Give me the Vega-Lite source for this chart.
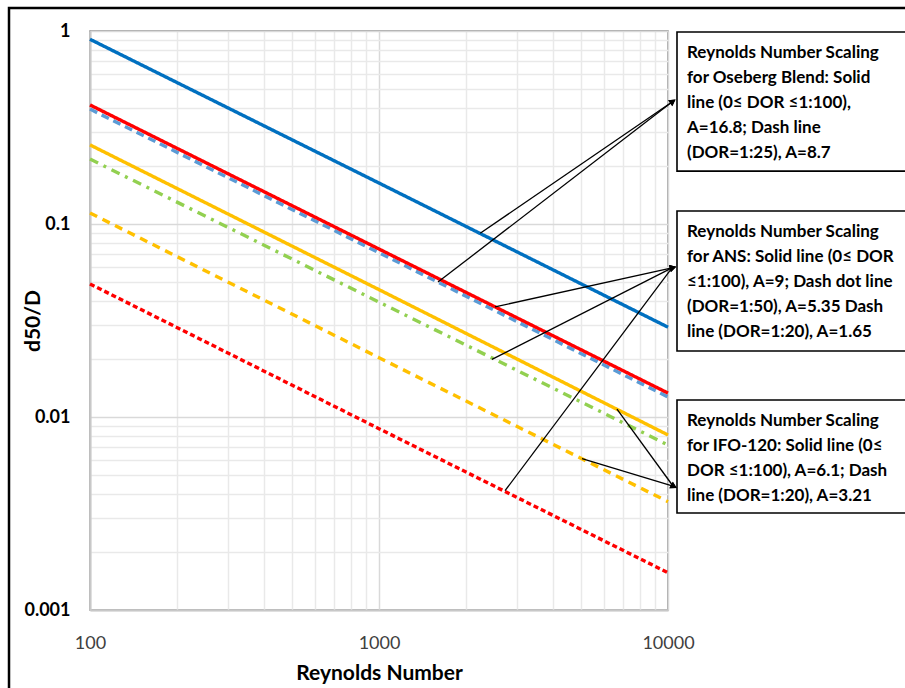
{
  "$schema": "https://vega.github.io/schema/vega-lite/v6.json",
  "width": 578,
  "height": 579,
  "autosize": {"type": "none"},
  "padding": {"left": 90, "top": 31, "right": 237, "bottom": 78},
  "background": "white",
  "config": {
    "font": "Lato",
    "view": {"stroke": "#8c8c8c", "strokeWidth": 1.5}
  },
  "datasets": {
    "frame": [{"x1": 52.45, "x2": 10000000, "y1": 1.316, "y2": 0.000001}],
    "curves": [
      {"series": "Oseberg solid", "Re": 100, "d50D": 0.906},
      {"series": "Oseberg solid", "Re": 1000, "d50D": 0.163},
      {"series": "Oseberg solid", "Re": 10000, "d50D": 0.0292},
      {"series": "Oseberg dash", "Re": 100, "d50D": 0.394},
      {"series": "Oseberg dash", "Re": 1000, "d50D": 0.071},
      {"series": "Oseberg dash", "Re": 10000, "d50D": 0.0127},
      {"series": "ANS solid", "Re": 100, "d50D": 0.414},
      {"series": "ANS solid", "Re": 1000, "d50D": 0.0742},
      {"series": "ANS solid", "Re": 10000, "d50D": 0.0133},
      {"series": "ANS dash dot", "Re": 100, "d50D": 0.217},
      {"series": "ANS dash dot", "Re": 1000, "d50D": 0.0394},
      {"series": "ANS dash dot", "Re": 10000, "d50D": 0.00716},
      {"series": "ANS dash", "Re": 100, "d50D": 0.0489},
      {"series": "ANS dash", "Re": 1000, "d50D": 0.0087},
      {"series": "ANS dash", "Re": 10000, "d50D": 0.00156},
      {"series": "IFO-120 solid", "Re": 100, "d50D": 0.257},
      {"series": "IFO-120 solid", "Re": 1000, "d50D": 0.0457},
      {"series": "IFO-120 solid", "Re": 10000, "d50D": 0.00807},
      {"series": "IFO-120 dash", "Re": 100, "d50D": 0.114},
      {"series": "IFO-120 dash", "Re": 1000, "d50D": 0.0203},
      {"series": "IFO-120 dash", "Re": 10000, "d50D": 0.00364}
    ],
    "pointers": [
      {"note": "Oseberg", "fromRe": 2240, "fromD": 0.0895, "toRe": 10323, "toD": 0.4286},
      {"note": "Oseberg", "fromRe": 1600, "fromD": 0.05, "toRe": 10323, "toD": 0.4286},
      {"note": "ANS", "fromRe": 2520, "fromD": 0.0372, "toRe": 10323, "toD": 0.0592},
      {"note": "ANS", "fromRe": 2460, "fromD": 0.0199, "toRe": 10323, "toD": 0.0592},
      {"note": "ANS", "fromRe": 2729, "fromD": 0.00415, "toRe": 10323, "toD": 0.0592},
      {"note": "IFO-120", "fromRe": 6660, "fromD": 0.011, "toRe": 10406, "toD": 0.00439},
      {"note": "IFO-120", "fromRe": 5040, "fromD": 0.00608, "toRe": 10406, "toD": 0.00439}
    ],
    "notes": [
      {"note": "Oseberg", "left": 10743, "right": 70000, "top": 0.988, "bottom": 0.188, "textRe": 11634, "textD": 0.7245,
       "label": "Reynolds Number Scaling\nfor Oseberg Blend: Solid\nline (0≤ DOR ≤1:100),\nA=16.8; Dash line\n(DOR=1:25), A=8.7"},
      {"note": "ANS", "left": 10743, "right": 70000, "top": 0.1167, "bottom": 0.02198, "textRe": 11634, "textD": 0.0857,
       "label": "Reynolds Number Scaling\nfor ANS: Solid line (0≤ DOR\n≤1:100), A=9; Dash dot line\n(DOR=1:50), A=5.35 Dash\nline (DOR=1:20), A=1.65"},
      {"note": "IFO-120", "left": 10743, "right": 70000, "top": 0.01225, "bottom": 0.003183, "textRe": 11634, "textD": 0.00898,
       "label": "Reynolds Number Scaling\nfor IFO-120: Solid line (0≤\nDOR ≤1:100), A=6.1; Dash\nline (DOR=1:20), A=3.21"}
    ]
  },
  "layer": [
    {
      "data": {"name": "curves"},
      "transform": [{"filter": "datum.series === 'Oseberg dash'"}],
      "mark": {"type": "line", "strokeWidth": 3.4, "strokeDash": [8, 5], "color": "#5b9bd5"},
      "encoding": {
        "x": {
          "field": "Re", "type": "quantitative",
          "scale": {"type": "log", "domain": [100, 10000], "nice": false},
          "axis": {
            "title": "Reynolds Number",
            "values": [100, 200, 300, 400, 500, 600, 700, 800, 900, 1000, 2000, 3000, 4000, 5000, 6000, 7000, 8000, 9000, 10000],
            "labelExpr": "abs(log(datum.value)/LN10 - round(log(datum.value)/LN10)) < 1e-6 ? datum.value + '' : ''",
            "labelOverlap": false,
            "labelFlush": false,
            "labelFont": "Lato",
            "labelFontSize": 18,
            "labelColor": "#404040",
            "labelPadding": 24,
            "ticks": false,
            "domain": true,
            "domainColor": "#c8c8c8",
            "domainWidth": 2,
            "grid": true,
            "gridColor": {"condition": {"test": "abs(log(datum.value)/LN10 - round(log(datum.value)/LN10)) < 1e-6", "value": "#d9d9d9"}, "value": "#e9e9e9"},
            "gridWidth": 1.5,
            "titleFont": "Lato",
            "titleFontSize": 21,
            "titleFontWeight": "bold",
            "titleColor": "#000000",
            "titlePadding": 10
          }
        },
        "y": {
          "field": "d50D", "type": "quantitative",
          "scale": {"type": "log", "domain": [0.001, 1], "nice": false},
          "axis": {
            "title": "d50/D",
            "values": [0.001, 0.002, 0.003, 0.004, 0.005, 0.006, 0.007, 0.008, 0.009, 0.01, 0.02, 0.03, 0.04, 0.05, 0.06, 0.07, 0.08, 0.09, 0.1, 0.2, 0.3, 0.4, 0.5, 0.6, 0.7, 0.8, 0.9, 1],
            "labelExpr": "abs(log(datum.value)/LN10 - round(log(datum.value)/LN10)) < 1e-6 ? datum.value + '' : ''",
            "labelOverlap": false,
            "labelFlush": false,
            "labelFont": "Lato",
            "labelFontSize": 18,
            "labelFontWeight": "bold",
            "labelColor": "#000000",
            "labelPadding": 20,
            "ticks": false,
            "domain": true,
            "domainColor": "#c8c8c8",
            "domainWidth": 2,
            "grid": true,
            "gridColor": {"condition": {"test": "abs(log(datum.value)/LN10 - round(log(datum.value)/LN10)) < 1e-6", "value": "#d9d9d9"}, "value": "#e9e9e9"},
            "gridWidth": 1.5,
            "titleFont": "Lato",
            "titleFontSize": 21,
            "titleFontWeight": "bold",
            "titleColor": "#000000",
            "titlePadding": -20
          }
        }
      }
    },
    {
      "data": {"name": "curves"},
      "transform": [{"filter": "datum.series !== 'Oseberg dash'"}],
      "mark": {"type": "line", "strokeWidth": 3.4},
      "encoding": {
        "x": {"field": "Re", "type": "quantitative", "scale": {"type": "log", "domain": [100, 10000], "nice": false}},
        "y": {"field": "d50D", "type": "quantitative", "scale": {"type": "log", "domain": [0.001, 1], "nice": false}},
        "detail": {"field": "series"},
        "color": {
          "field": "series", "type": "nominal", "legend": null,
          "scale": {
            "domain": ["Oseberg solid", "ANS solid", "ANS dash dot", "ANS dash", "IFO-120 solid", "IFO-120 dash"],
            "range": ["#0070c0", "#ff0000", "#92d050", "#ff0000", "#ffc000", "#ffc000"]
          }
        },
        "strokeDash": {
          "field": "series", "type": "nominal", "legend": null,
          "scale": {
            "domain": ["Oseberg solid", "ANS solid", "ANS dash dot", "ANS dash", "IFO-120 solid", "IFO-120 dash"],
            "range": [[1, 0], [1, 0], [9, 6, 3, 6], [5, 3], [1, 0], [8, 6]]
          }
        }
      }
    },
    {
      "data": {"name": "pointers"},
      "mark": {"type": "rule", "color": "#000000", "strokeWidth": 1.3},
      "encoding": {
        "x": {"field": "fromRe", "type": "quantitative", "scale": {"type": "log", "domain": [100, 10000], "nice": false}},
        "y": {"field": "fromD", "type": "quantitative", "scale": {"type": "log", "domain": [0.001, 1], "nice": false}},
        "x2": {"field": "toRe"},
        "y2": {"field": "toD"}
      }
    },
    {
      "data": {"name": "notes"},
      "mark": {"type": "rect", "fill": "#ffffff", "stroke": "#000000", "strokeWidth": 1.6},
      "encoding": {
        "x": {"field": "left", "type": "quantitative", "scale": {"type": "log", "domain": [100, 10000], "nice": false}},
        "x2": {"field": "right"},
        "y": {"field": "top", "type": "quantitative", "scale": {"type": "log", "domain": [0.001, 1], "nice": false}},
        "y2": {"field": "bottom"}
      }
    },
    {
      "data": {"name": "pointers"},
      "mark": {"type": "point", "shape": "triangle", "filled": true, "color": "#000000", "size": 55, "opacity": 1},
      "encoding": {
        "x": {"field": "toRe", "type": "quantitative", "scale": {"type": "log", "domain": [100, 10000], "nice": false}},
        "y": {"field": "toD", "type": "quantitative", "scale": {"type": "log", "domain": [0.001, 1], "nice": false}},
        "angle": {
          "condition": [
            {"test": "datum.note === 'Oseberg'", "value": 56},
            {"test": "datum.note === 'ANS'", "value": 75}
          ],
          "value": 118
        }
      }
    },
    {
      "data": {"name": "notes"},
      "mark": {"type": "text", "align": "left", "baseline": "alphabetic", "lineBreak": "\n", "lineHeight": 25, "font": "Lato", "fontSize": 17, "fontWeight": "bold", "color": "#000000"},
      "encoding": {
        "x": {"field": "textRe", "type": "quantitative", "scale": {"type": "log", "domain": [100, 10000], "nice": false}},
        "y": {"field": "textD", "type": "quantitative", "scale": {"type": "log", "domain": [0.001, 1], "nice": false}},
        "text": {"field": "label"}
      }
    },
    {
      "data": {"name": "frame"},
      "mark": {"type": "rect", "fillOpacity": 0, "stroke": "#000000", "strokeWidth": 2.5},
      "encoding": {
        "x": {"field": "x1", "type": "quantitative", "scale": {"type": "log", "domain": [100, 10000], "nice": false}},
        "x2": {"field": "x2"},
        "y": {"field": "y1", "type": "quantitative", "scale": {"type": "log", "domain": [0.001, 1], "nice": false}},
        "y2": {"field": "y2"}
      }
    }
  ]
}
